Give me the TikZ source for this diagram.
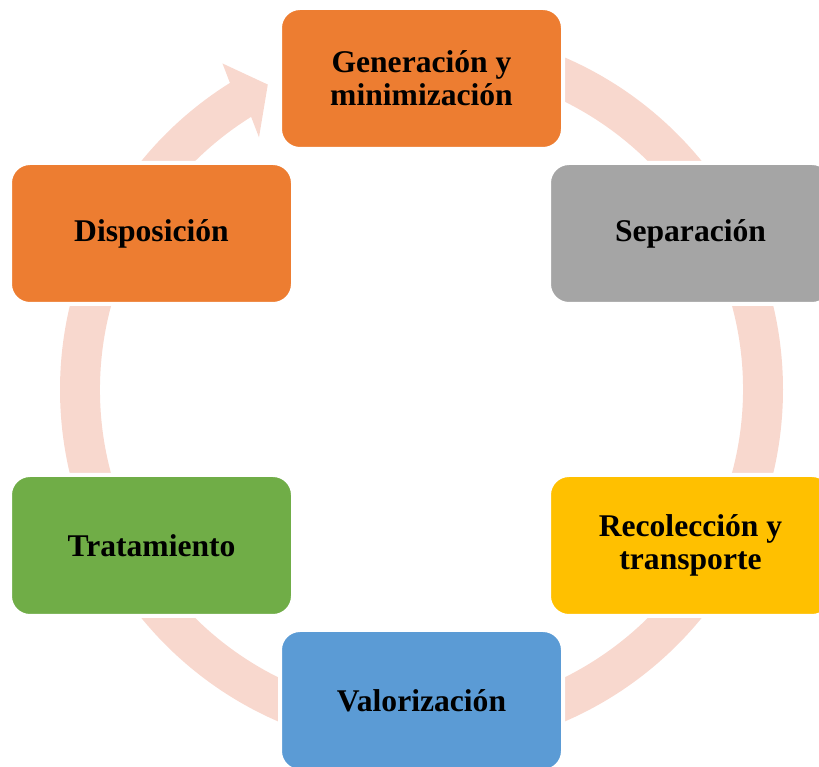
\documentclass[tikz,border=0pt]{standalone}
\usepackage{fontspec}
\setmainfont{Liberation Serif}
\usetikzlibrary{calc}
\definecolor{ringc}{HTML}{F8D8CE}
\definecolor{orangec}{HTML}{ED7D31}
\definecolor{grayc}{HTML}{A5A5A5}
\definecolor{yellowc}{HTML}{FFC000}
\definecolor{bluec}{HTML}{5B9BD5}
\definecolor{greenc}{HTML}{70AD47}
\begin{document}
\begin{tikzpicture}[x=0.75pt,y=0.75pt,
  stagebox/.style={rectangle, rounded corners=15pt, draw=white, line width=3pt,
    minimum width=212.25pt, minimum height=105.75pt, inner sep=0pt,
    align=center, font=\fontsize{23.7pt}{24.75pt}\selectfont\bfseries, text=black}]
\useasboundingbox (0,0) rectangle (819,767);
\clip (0,0) rectangle (819,767);
\coordinate (c) at (421.5,377.5);
% ring with arrow head
\fill[ringc] ($(c)+(90:271.125pt)$) arc[start angle=90, end angle=-238, radius=271.125pt]
  -- ($(c)+(-238.6:286.5pt)$) -- ($(c)+(-243.25:256.125pt)$) -- ($(c)+(-237.2:225pt)$)
  -- ($(c)+(-238:241.125pt)$) arc[start angle=-238, end angle=90, radius=241.125pt] -- cycle;
% boxes
\node[stagebox, fill=orangec] (gen) at (421.5,688.5) {Generación y\\minimización};
\node[stagebox, fill=grayc] (sep) at (690.5,533.5) {Separación};
\node[stagebox, fill=yellowc] (rec) at (690.5,221.5) {Recolección y\\transporte};
\node[stagebox, fill=bluec] (val) at (421.5,66.5) {Valorización};
\node[stagebox, fill=greenc] (tra) at (151.5,221.5) {Tratamiento};
\node[stagebox, fill=orangec] (dis) at (151.5,533.5) {Disposición};
\end{tikzpicture}
\end{document}
